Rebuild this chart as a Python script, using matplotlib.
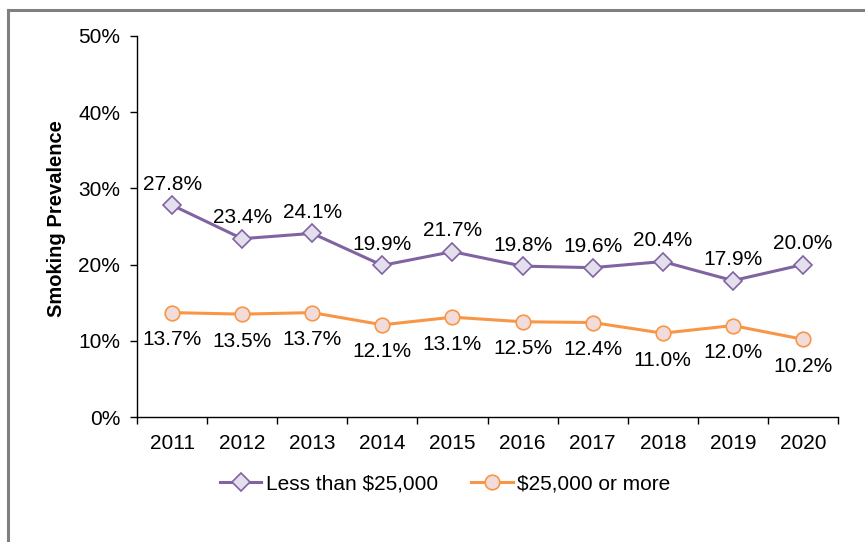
import matplotlib.pyplot as plt
from matplotlib.lines import Line2D
from matplotlib.ticker import FuncFormatter

years = ["2011", "2012", "2013", "2014", "2015", "2016", "2017", "2018", "2019", "2020"]
low_income = [27.8, 23.4, 24.1, 19.9, 21.7, 19.8, 19.6, 20.4, 17.9, 20.0]
high_income = [13.7, 13.5, 13.7, 12.1, 13.1, 12.5, 12.4, 11.0, 12.0, 10.2]

plt.rcParams['font.family'] = ['Liberation Sans', 'DejaVu Sans']

fig = plt.figure(figsize=(8.65, 5.42), dpi=100)
ax = fig.add_axes([0.1584, 0.2306, 0.8104, 0.7030])

x = list(range(len(years)))
ax.plot(x, low_income, color='#8064A2', lw=2.2, marker='D', markersize=9.5,
        markerfacecolor='#E4DFEC', markeredgecolor='#8064A2', markeredgewidth=1.2,
        label='Less than $25,000', zorder=3)
ax.plot(x, high_income, color='#F79646', lw=2.2, marker='o', markersize=10.5,
        markerfacecolor='#F2DCDB', markeredgecolor='#F79646', markeredgewidth=1.2,
        label='$25,000 or more', zorder=3)

for i, v in enumerate(low_income):
    ax.annotate(f"{v:.1f}%", (i, v), xytext=(0, 15), textcoords='offset points',
                ha='center', va='center', fontsize=15)
for i, v in enumerate(high_income):
    ax.annotate(f"{v:.1f}%", (i, v), xytext=(0, -19.5), textcoords='offset points',
                ha='center', va='center', fontsize=15)

ax.set_xlim(-0.5, len(years) - 0.5)
ax.set_ylim(0, 50)
ax.set_yticks([0, 10, 20, 30, 40, 50])
ax.yaxis.set_major_formatter(FuncFormatter(lambda v, p: f"{v:.0f}%"))
ax.set_xticks(x)
ax.set_xticklabels(years)
ax.set_xticks([i - 0.5 for i in range(len(years) + 1)], minor=True)
ax.tick_params(axis='x', which='major', length=0, pad=12, labelsize=15)
ax.tick_params(axis='x', which='minor', length=5, width=1, direction='out')
ax.tick_params(axis='y', length=5, width=1, direction='out', labelsize=15, pad=7)

for s in ['top', 'right']:
    ax.spines[s].set_visible(False)
ax.spines['left'].set_linewidth(1)
ax.spines['bottom'].set_linewidth(1)

ax.set_ylabel("Smoking Prevalence", fontsize=14.5, fontweight='bold', labelpad=10)
ax.yaxis.set_label_coords(-0.101, 0.52)

ax.legend(loc='center', bbox_to_anchor=(445 / 865, 1 - 484 / 542),
          bbox_transform=fig.transFigure, ncol=2, frameon=False, fontsize=15,
          handlelength=2.0, handletextpad=0.2, columnspacing=1.6)

# grey frame along top and left edges
fig.add_artist(Line2D([8 / 865, 1], [1 - 10 / 542, 1 - 10 / 542], color='#808080', lw=2.2))
fig.add_artist(Line2D([8 / 865, 8 / 865], [0, 1 - 10 / 542], color='#808080', lw=2.2))

fig.savefig("out.png", dpi=100)
